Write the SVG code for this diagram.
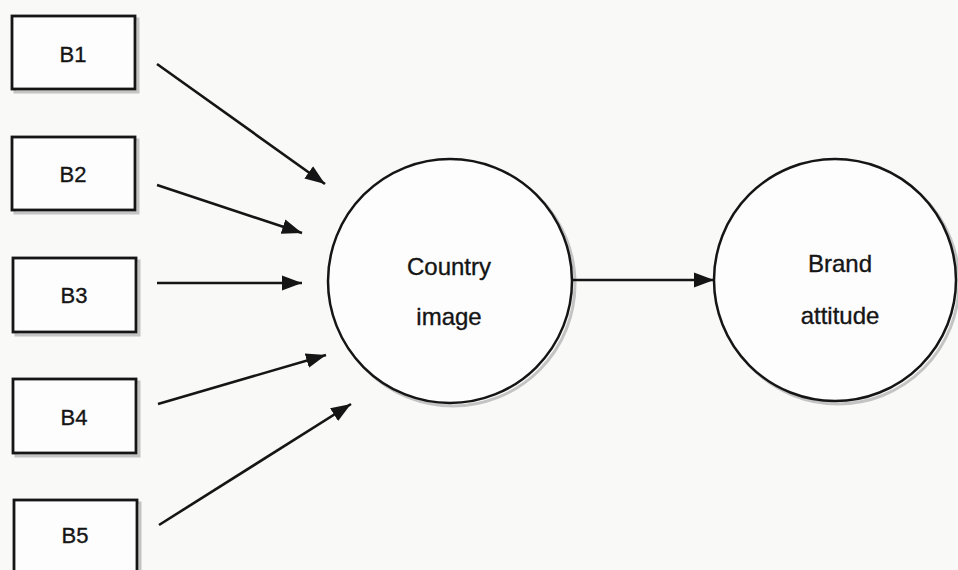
<svg xmlns="http://www.w3.org/2000/svg" width="958" height="570" viewBox="0 0 958 570">
<style>
.box{fill:#fdfdfd;stroke:#151515;stroke-width:2.8}
.circ{fill:#fdfdfd;stroke:#151515;stroke-width:2.5}
.shadow{fill:none;stroke:#c4c4c4;stroke-width:3}
.lbl{font-family:"Liberation Sans",Arial,sans-serif;fill:#151515;stroke:#151515;stroke-width:0.35;text-anchor:middle}
.b{font-size:22px}
.c{font-size:24px}
.edge{stroke:#151515;stroke-width:2.6;fill:none;marker-end:url(#ah)}
</style>
<defs>
<marker id="ah" markerUnits="userSpaceOnUse" markerWidth="20" markerHeight="18" viewBox="0 0 20 18" refX="20" refY="9" orient="auto">
<path d="M0,1.5 L20,9 L0,16.5 Z" fill="#151515"/>
</marker>
</defs>
<rect width="958" height="570" fill="#f9f9f8"/>
<g id="B1">
<rect class="shadow" x="15" y="19" width="123" height="73"/>
<rect class="box" x="12" y="16" width="123" height="73"/>
<text class="lbl b" x="73" y="62">B1</text>
</g>
<g id="B2">
<rect class="shadow" x="15" y="140" width="123" height="73"/>
<rect class="box" x="12" y="137" width="123" height="73"/>
<text class="lbl b" x="73" y="182">B2</text>
</g>
<g id="B3">
<rect class="shadow" x="16" y="261" width="123" height="74"/>
<rect class="box" x="13" y="258" width="123" height="74"/>
<text class="lbl b" x="74" y="303">B3</text>
</g>
<g id="B4">
<rect class="shadow" x="16" y="382" width="123" height="74"/>
<rect class="box" x="13" y="379" width="123" height="74"/>
<text class="lbl b" x="74" y="425">B4</text>
</g>
<g id="B5">
<rect class="shadow" x="17" y="503" width="123" height="74"/>
<rect class="box" x="14" y="500" width="123" height="74"/>
<text class="lbl b" x="75" y="543">B5</text>
</g>
<g id="country-image">
<circle class="shadow" cx="453" cy="284" r="122"/>
<circle class="circ" cx="450" cy="281" r="122"/>
<text class="lbl c" x="449" y="275">Country</text>
<text class="lbl c" x="449" y="325">image</text>
</g>
<g id="brand-attitude">
<circle class="shadow" cx="838" cy="283" r="121"/>
<circle class="circ" cx="835" cy="280" r="121"/>
<text class="lbl c" x="840" y="272">Brand</text>
<text class="lbl c" x="840" y="324">attitude</text>
</g>
<g id="connectors">
<line class="edge" x1="157" y1="64" x2="325" y2="184"/>
<line class="edge" x1="157" y1="185" x2="302" y2="233"/>
<line class="edge" x1="157" y1="283" x2="302" y2="283"/>
<line class="edge" x1="158" y1="404" x2="326" y2="355"/>
<line class="edge" x1="159" y1="525" x2="351" y2="404"/>
<line class="edge" x1="572" y1="280" x2="714" y2="280"/>
</g>
</svg>
